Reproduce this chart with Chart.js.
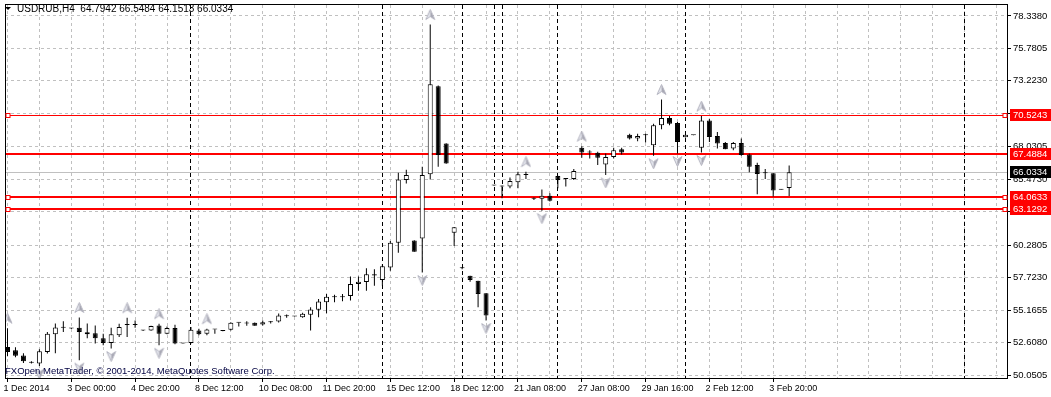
<!DOCTYPE html>
<html lang="en">
<head>
<meta charset="UTF-8">
<title>USDRUB,H4</title>
<script src="https://cdn.jsdelivr.net/npm/chart.js"></script>
<style>
  html, body { margin: 0; padding: 0; background: #fff; }
  #wrap { width: 1051px; height: 397px; }
</style>
</head>
<body>
<div id="wrap"><canvas id="chart" width="1051" height="397"></canvas></div>
<script>
// H4 bars, oldest first
const openPrices = [
  52.268, 52.010, 51.596, 51.018, 50.971, 51.877, 53.260, 53.784, 53.729, 53.784,
  53.416, 53.338, 52.947, 52.581, 53.182, 53.987, 53.987, 53.572, 53.572, 53.963,
  53.315, 53.752, 52.534, 52.581, 53.572, 53.315, 53.650, 53.518, 53.627, 54.174,
  54.119, 54.174, 54.041, 54.221, 54.275, 54.689, 54.666, 54.611, 54.799, 55.190,
  55.784, 56.174, 56.174, 56.284, 57.221, 57.377, 58.002, 57.534, 58.518, 60.471,
  65.424, 60.658, 60.815, 65.862, 72.791, 68.283, 61.252, 58.471, 57.870, 57.479,
  56.487, 64.979, 64.901, 64.901, 65.237, 65.815, 63.940, 63.940, 64.174, 65.737,
  65.502, 65.502, 67.947, 67.580, 67.557, 66.643, 67.221, 67.846, 68.986, 68.674,
  68.940, 68.158, 69.721, 70.291, 69.901, 68.783, 68.940, 67.947, 70.111, 68.885,
  68.338, 67.893, 68.338, 67.424, 66.596, 65.940, 65.940, 64.643, 64.7942
];
const highPrices = [
  53.750, 52.244, 51.776, 51.151, 52.088, 53.440, 54.119, 54.299, 53.752, 54.588,
  54.119, 53.963, 53.315, 53.784, 54.096, 54.565, 54.354, 53.596, 53.930, 54.096,
  53.885, 54.018, 52.550, 53.830, 53.705, 53.705, 53.660, 53.530, 54.221, 54.190,
  54.299, 54.197, 54.354, 54.310, 54.900, 54.822, 54.680, 54.955, 55.393, 56.049,
  56.440, 56.385, 56.440, 57.815, 57.815, 58.471, 58.393, 58.783, 60.604, 65.994,
  66.229, 60.670, 66.463, 77.658, 72.850, 68.300, 61.710, 58.572, 57.880, 57.490,
  56.500, 65.000, 64.979, 65.604, 66.073, 66.073, 64.041, 64.666, 64.377, 65.760,
  65.549, 66.284, 68.080, 67.768, 67.635, 67.502, 67.947, 67.947, 69.064, 69.064,
  69.064, 69.846, 71.752, 70.447, 69.979, 69.000, 68.950, 70.447, 70.236, 69.197,
  68.416, 68.416, 68.674, 67.502, 66.776, 66.284, 65.950, 64.660, 66.5484
];
const lowPrices = [
  51.541, 51.463, 50.994, 50.955, 50.760, 51.752, 51.776, 53.440, 53.690, 51.229,
  52.947, 52.534, 52.400, 52.143, 53.049, 53.049, 53.784, 53.533, 53.550, 52.400,
  53.260, 52.479, 52.510, 52.534, 53.182, 53.182, 53.315, 53.500, 53.572, 53.885,
  53.940, 53.940, 53.963, 54.119, 54.197, 54.565, 54.650, 54.565, 53.572, 54.611,
  54.924, 55.784, 55.862, 55.916, 56.697, 56.697, 57.088, 57.088, 58.260, 59.690,
  65.135, 59.760, 58.127, 65.448, 66.463, 66.700, 60.213, 58.377, 57.401, 55.393,
  54.354, 64.950, 63.986, 64.768, 64.768, 65.502, 63.846, 63.002, 63.729, 64.768,
  64.901, 65.424, 67.166, 67.111, 66.596, 65.815, 67.111, 67.424, 68.610, 68.471,
  68.362, 67.322, 69.408, 69.721, 67.502, 68.770, 68.930, 67.580, 68.416, 67.893,
  67.846, 67.768, 67.322, 66.018, 64.299, 65.502, 64.119, 64.630, 64.1513
];
const closePrices = [
  51.877, 51.565, 51.151, 51.018, 51.932, 53.315, 53.807, 53.784, 53.729, 53.440,
  53.260, 52.947, 52.581, 53.260, 53.830, 53.987, 53.987, 53.572, 53.908, 53.315,
  53.752, 52.534, 52.534, 53.627, 53.260, 53.650, 53.650, 53.518, 54.174, 54.174,
  54.119, 53.940, 54.221, 54.221, 54.744, 54.689, 54.666, 54.877, 55.213, 55.838,
  56.229, 56.174, 56.174, 57.221, 57.401, 58.002, 57.893, 58.627, 60.471, 65.448,
  65.815, 59.768, 65.815, 72.947, 67.377, 66.721, 61.697, 58.471, 57.534, 56.440,
  54.744, 64.979, 64.901, 65.346, 65.862, 65.815, 63.940, 64.174, 63.784, 65.424,
  65.502, 66.127, 67.580, 67.580, 67.166, 67.221, 67.768, 67.580, 68.674, 68.885,
  68.940, 69.721, 70.291, 69.846, 68.416, 68.986, 68.940, 70.111, 68.807, 68.283,
  67.846, 68.338, 67.377, 66.463, 65.893, 65.940, 64.588, 64.643, 66.0334
];

// time axis: one label every 8 bars
const timeLabels = [
  '1 Dec 2014', '3 Dec 00:00', '4 Dec 20:00', '8 Dec 12:00', '10 Dec 08:00',
  '11 Dec 20:00', '15 Dec 12:00', '18 Dec 12:00', '21 Jan 08:00', '27 Jan 08:00',
  '29 Jan 16:00', '2 Feb 12:00', '3 Feb 20:00'
];
const priceTicks = [50.0505, 52.6080, 55.1655, 57.7230, 60.2805, 62.9155,
                    65.4730, 68.0305, 70.6655, 73.2230, 75.7805, 78.3380];

// Fractals indicator marks (bar indexes)
const fractalUp = [0, 9, 15, 19, 25, 53, 65, 72, 82, 87];
const fractalDown = [4, 9, 13, 19, 52, 60, 67, 75, 81, 84, 87];

// chart objects
const vLineBars = [23, 47, 57, 61, 62, 69, 85, 120];
const levelLines = [70.5243, 67.4884, 64.0633, 63.1292];
const levelWidths = [1, 2, 2, 2];
const levelMarked = [70.5243, 64.0633, 63.1292];
const bidPrice = 66.0334;
const titleText = 'USDRUB,H4  64.7942 66.5484 64.1513 66.0334';
const copyText = 'FXOpen MetaTrader, \u00a9 2001-2014, MetaQuotes Software Corp.';

const FONT = '"Liberation Sans", Arial, sans-serif';

function makeArrow(up) {
  // fractal arrow glyph, drawn off-centre so it sits above the high / below the low
  const c = document.createElement('canvas');
  c.width = 11;
  c.height = up ? 31 : 27;
  const g = c.getContext('2d');
  const top = up ? 0 : 16;
  g.translate(0, top);
  if (!up) { g.translate(0, 11); g.scale(1, -1); }
  g.beginPath();
  g.moveTo(5.5, 0.5); g.lineTo(5.5, 7.5); g.lineTo(1, 10.5); g.closePath();
  g.fillStyle = '#e4e6ee'; g.fill();
  g.beginPath();
  g.moveTo(5.5, 0.5); g.lineTo(10, 10.5); g.lineTo(5.5, 7.5); g.closePath();
  g.fillStyle = '#a6a6b2'; g.fill();
  g.beginPath();
  g.moveTo(5.5, 0.5); g.lineTo(10, 10.5); g.lineTo(5.5, 7.5); g.lineTo(1, 10.5); g.closePath();
  g.strokeStyle = '#b4b4c0'; g.lineWidth = 1; g.stroke();
  return c;
}

const overlay = {
  id: 'overlay',
  beforeDatasetsDraw(chart) {
    const {ctx, chartArea: a, scales: {x, y}} = chart;
    ctx.save();
    ctx.lineWidth = 1;
    // vertical lines
    ctx.strokeStyle = '#000';
    ctx.setLineDash([4, 3]);
    vLineBars.forEach(b => {
      const px = Math.round(x.getPixelForValue(b) - 0.5) + 0.5;
      ctx.beginPath(); ctx.moveTo(px, a.top); ctx.lineTo(px, a.bottom); ctx.stroke();
    });
    ctx.setLineDash([]);
    // bid line
    let py = Math.round(y.getPixelForValue(bidPrice) - 0.5) + 0.5;
    ctx.strokeStyle = '#c0c0c0';
    ctx.beginPath(); ctx.moveTo(a.left, py); ctx.lineTo(a.right, py); ctx.stroke();
    // horizontal levels
    ctx.strokeStyle = '#ff0000';
    levelLines.forEach((v, i) => {
      const w = levelWidths[i];
      py = Math.round(y.getPixelForValue(v) - w / 2) + w / 2;
      ctx.lineWidth = w;
      ctx.beginPath(); ctx.moveTo(a.left, py); ctx.lineTo(a.right, py); ctx.stroke();
    });
    ctx.restore();
  },
  afterDraw(chart) {
    const {ctx, chartArea: a, scales: {y}} = chart;
    ctx.save();
    // frame
    ctx.strokeStyle = '#000';
    ctx.lineWidth = 1;
    ctx.strokeRect(a.left + 0.5, a.top - 0.5, a.right - a.left, a.bottom - a.top + 1);
    // anchor squares of the levels
    levelMarked.forEach(v => {
      const py = Math.round(y.getPixelForValue(v) - 0.5) + 0.5;
      [a.left + 3, a.right - 2].forEach(cx => {
        ctx.fillStyle = '#fff';
        ctx.fillRect(cx - 2, py - 2, 4, 4);
        ctx.strokeStyle = '#ff0000';
        ctx.strokeRect(cx - 2, py - 2, 4, 4);
      });
    });
    // price boxes on the axis
    ctx.font = '9.5px ' + FONT;
    ctx.textBaseline = 'middle';
    ctx.textAlign = 'left';
    const boxes = levelLines.map(v => ({v, bg: '#ff0000'})).concat([{v: bidPrice, bg: '#000'}]);
    boxes.forEach(bx => {
      const py = Math.round(y.getPixelForValue(bx.v));
      ctx.fillStyle = bx.bg;
      ctx.fillRect(a.right + 3, py - 6, 44, 12);
      ctx.fillStyle = '#fff';
      ctx.fillText(bx.v.toFixed(4), a.right + 6, py + 0.5);
    });
    // title
    ctx.fillStyle = '#000';
    ctx.beginPath();
    ctx.moveTo(5, 7); ctx.lineTo(11, 7); ctx.lineTo(8, 10); ctx.closePath(); ctx.fill();
    ctx.font = '10px ' + FONT;
    ctx.fillText(titleText, 17, 9.5);
    // copyright
    ctx.fillStyle = '#000040';
    ctx.font = '9.5px ' + FONT;
    ctx.fillText(copyText, 5, 371);
    ctx.restore();
  }
};

const bars = openPrices.map((o, i) => i);

new Chart(document.getElementById('chart'), {
  type: 'bar',
  data: {
    datasets: [
      {
        label: 'body',
        data: bars.map(i => ({x: i, y: [openPrices[i], closePrices[i]]})),
        backgroundColor: bars.map(i => closePrices[i] > openPrices[i] ? '#ffffff' : '#000000'),
        borderColor: '#000',
        borderWidth: 1,
        borderSkipped: false,
        barThickness: 5,
        minBarLength: 1,
        inflateAmount: 0,
        grouped: false,
        order: 1
      },
      {
        label: 'wick',
        data: bars.map(i => ({x: i, y: [lowPrices[i], highPrices[i]]})),
        backgroundColor: '#000',
        borderWidth: 0,
        barThickness: 1,
        inflateAmount: 0,
        grouped: false,
        order: 2
      },
      {
        type: 'scatter',
        label: 'fractal up',
        data: fractalUp.map(i => ({x: i, y: highPrices[i]})),
        pointStyle: makeArrow(true),
        pointRadius: 3,
        order: 0
      },
      {
        type: 'scatter',
        label: 'fractal down',
        data: fractalDown.map(i => ({x: i, y: lowPrices[i]})),
        pointStyle: makeArrow(false),
        pointRadius: 3,
        order: 0
      }
    ]
  },
  options: {
    responsive: false,
    animation: false,
    devicePixelRatio: 1,
    layout: { padding: { left: 2, top: 2, right: 0, bottom: 0 } },
    plugins: { legend: { display: false }, tooltip: { enabled: false } },
    scales: {
      x: {
        type: 'linear',
        offset: false,
        min: -0.3125,
        max: 125.3125,
        afterBuildTicks: s => {
          const t = [];
          for (let v = 0; v <= 124; v += 4) t.push({value: v});
          s.ticks = t;
        },
        afterFit: s => { s.height = 19; s.paddingLeft = 0; s.paddingRight = 0; },
        ticks: {
          autoSkip: false,
          maxRotation: 0,
          align: 'start',
          labelOffset: -4,
          padding: 1,
          color: '#000',
          font: { family: FONT, size: 9 },
          callback: v => (v % 8 === 0 && timeLabels[v / 8]) ? timeLabels[v / 8] : ''
        },
        grid: {
          offset: false,
          color: '#c0c0c0',
          tickLength: 4,
          tickColor: c => (c.tick && c.tick.value % 8 === 0 && timeLabels[c.tick.value / 8]) ? '#000' : 'rgba(0,0,0,0)'
        },
        border: { display: false, dash: [3, 3] }
      },
      y: {
        position: 'right',
        min: 49.8224,
        max: 79.1974,
        afterBuildTicks: s => { s.ticks = priceTicks.map(v => ({value: v})); },
        afterFit: s => { s.width = 44; s.paddingTop = 0; s.paddingBottom = 0; },
        ticks: {
          autoSkip: false,
          padding: 2,
          color: '#000',
          font: { family: FONT, size: 9.5 },
          callback: v => Number(v).toFixed(4)
        },
        grid: { color: '#c0c0c0', tickLength: 4, tickColor: '#000' },
        border: { display: false, dash: [3, 3] }
      }
    }
  },
  plugins: [overlay]
});
</script>
</body>
</html>
